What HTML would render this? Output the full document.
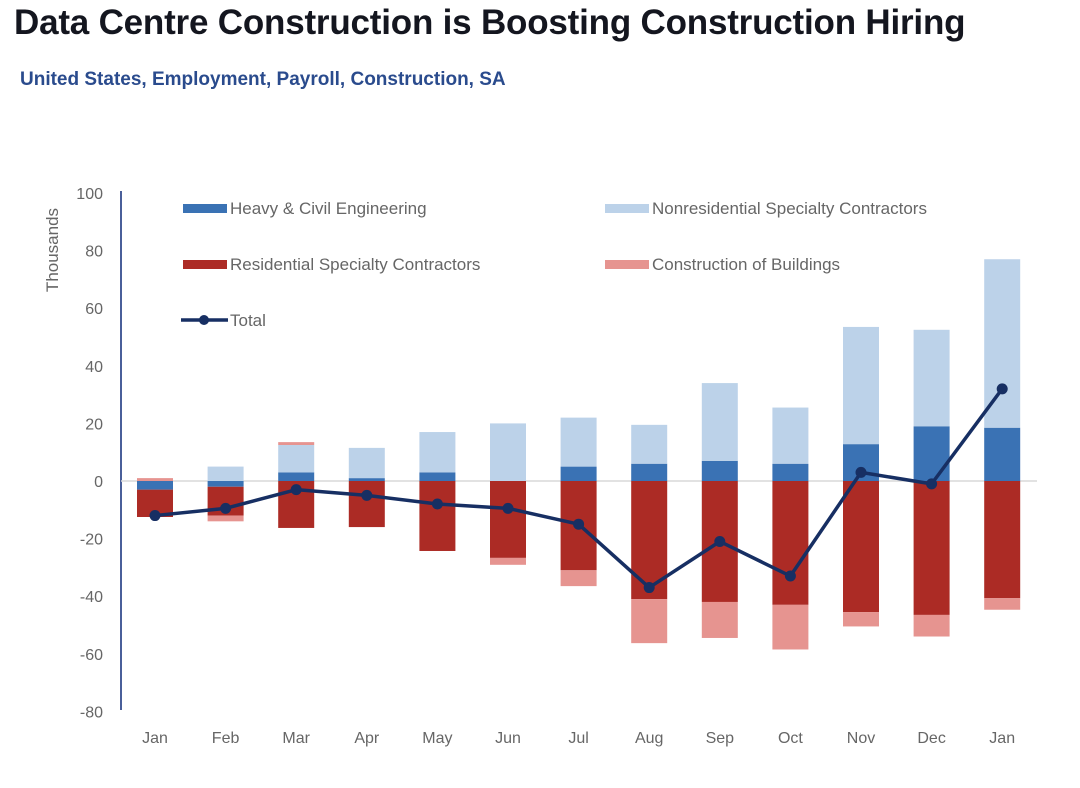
<!DOCTYPE html>
<html><head><meta charset="utf-8">
<style>
body{margin:0;background:#fff;width:1080px;height:788px;overflow:hidden;font-family:"Liberation Sans",sans-serif}
#title{position:absolute;left:14px;top:3px;font-size:35px;font-weight:bold;color:#14161f;margin:0;letter-spacing:-0.2px}
#sub{position:absolute;left:20px;top:69px;font-size:19px;font-weight:bold;color:#2a4b8d}
svg{position:absolute;left:0;top:0}
</style></head><body>
<h1 id="title">Data Centre Construction is Boosting Construction Hiring</h1>
<div id="sub">United States, Employment, Payroll, Construction, SA</div>
<svg id="c" width="1080" height="788"></svg>
<script>
const months=["Jan","Feb","Mar","Apr","May","Jun","Jul","Aug","Sep","Oct","Nov","Dec","Jan"];
const heavy=[-3,-2,3,1,3,0,5,6,7,6,12.8,19,18.5];
const nonres=[0,5,9.5,10.5,14,20,17,13.5,27,19.5,40.7,33.5,58.5];
const resid=[-9.5,-10,-16.3,-16,-24.3,-26.7,-31,-41,-42,-43,-45.5,-46.5,-40.7];
const bldg=[1,-2,1,0,0,-2.4,-5.5,-15.3,-12.5,-15.5,-5,-7.5,-4];
const total=[-12,-9.5,-3,-5,-8,-9.5,-15,-37,-21,-33,3,-1,32];
const yTicks=[100,80,60,40,20,0,-20,-40,-60,-80];
const svg=document.getElementById('c');const NS='http://www.w3.org/2000/svg';
function y(v){return 481-v*2.88;}
function x(i){return 155+i*70.6;}
const BW=36;
function mk(t,a,p){const e=document.createElementNS(NS,t);for(const k in a)e.setAttribute(k,a[k]);(p||svg).appendChild(e);return e;}
let g=mk('line',{x1:121,y1:191,x2:121,y2:710,stroke:'#4a5f9a','stroke-width':2});


g=mk('line',{x1:121,y1:481,x2:1037,y2:481,stroke:'#d9d9d9','stroke-width':1.5});


yTicks.forEach(v=>{const t=mk('text',{x:103,y:y(v)+6,'text-anchor':'end','font-size':16,fill:'#666'});t.textContent=v;

});
let yt=mk('text',{x:0,y:0,'font-size':17,fill:'#666','text-anchor':'middle',transform:'translate(58,250) rotate(-90)'});yt.textContent='Thousands';


function bar(i,a,b,col,name){const r=mk('rect',{x:x(i)-BW/2,y:Math.min(y(a),y(b)),width:BW,height:Math.abs(y(a)-y(b)),fill:col});

}
months.forEach((m,i)=>{
 let pos=0,neg=0;
 const stack=(v,col,n)=>{if(v>=0){bar(i,pos,pos+v,col,n);pos+=v;}else{bar(i,neg,neg+v,col,n);neg+=v;}};
 stack(heavy[i],'#3a72b4','bar-heavy-civil');
 stack(nonres[i],'#bcd2e9','bar-nonresidential');
 stack(resid[i],'#ac2b25','bar-residential');
 stack(bldg[i],'#e69490','bar-buildings');
 const t=mk('text',{x:x(i),y:743,'text-anchor':'middle','font-size':16,fill:'#666'});t.textContent=m;
 
 
});
const pl=mk('polyline',{points:total.map((v,i)=>x(i)+','+y(v)).join(' '),fill:'none',stroke:'#172f63','stroke-width':3.5,'stroke-linejoin':'round'});


total.forEach((v,i)=>{const c=mk('circle',{cx:x(i),cy:y(v),r:5.5,fill:'#172f63'});

});
const leg=[[183,208,'#3a72b4','Heavy & Civil Engineering'],[605,208,'#bcd2e9','Nonresidential Specialty Contractors'],[183,264,'#ac2b25','Residential Specialty Contractors'],[605,264,'#e69490','Construction of Buildings']];
leg.forEach(l=>{const gg=mk('g',{});
mk('rect',{x:l[0],y:l[1]-4,width:44,height:9,fill:l[2]},gg);
const t=mk('text',{x:l[0]+47,y:l[1]+6,'font-size':17,fill:'#666'},gg);t.textContent=l[3];});
const lg=mk('g',{});
mk('line',{x1:181,y1:320,x2:228,y2:320,stroke:'#172f63','stroke-width':3.5},lg);
mk('circle',{cx:204,cy:320,r:5,fill:'#172f63'},lg);
const lt=mk('text',{x:230,y:326,'font-size':17,fill:'#666'},lg);lt.textContent='Total';
</script>
</body></html>
